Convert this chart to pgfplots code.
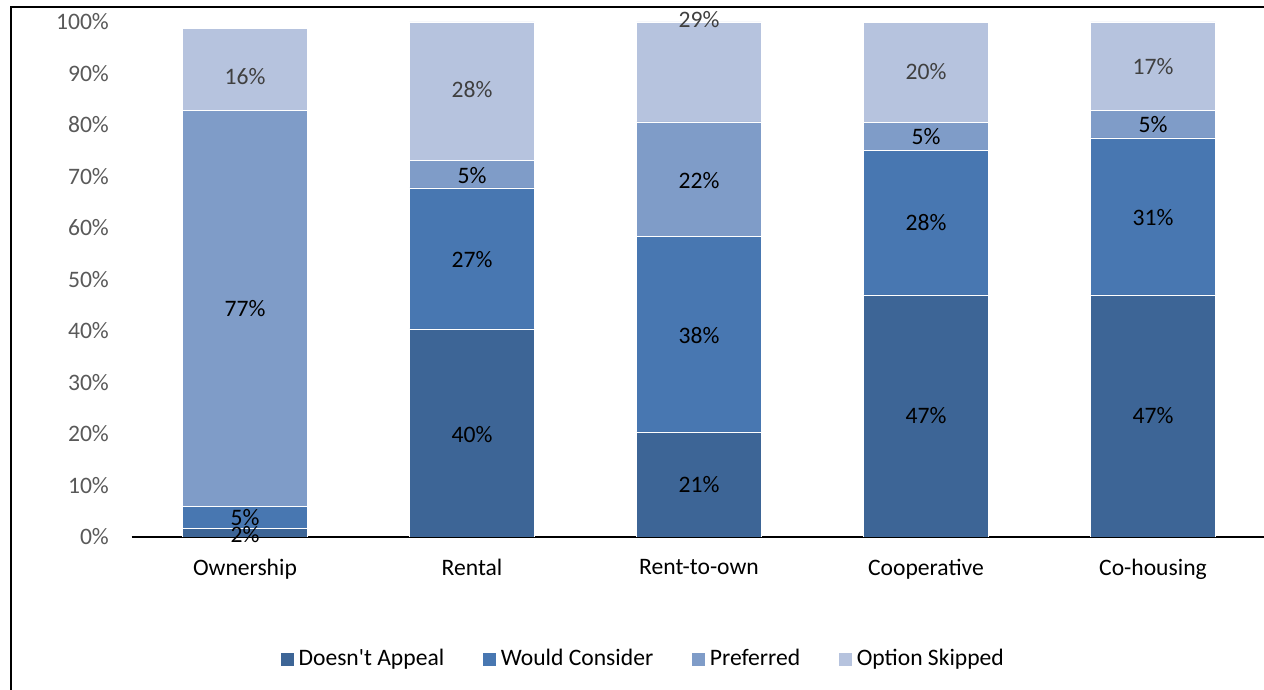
\documentclass[border=0pt]{standalone}
\usepackage{fontspec}
\setmainfont{Carlito}
\usepackage{pgfplots}
\pgfplotsset{compat=1.18}

\definecolor{cDA}{HTML}{3D6596}
\definecolor{cWC}{HTML}{4877B1}
\definecolor{cPR}{HTML}{7F9CC8}
\definecolor{cOS}{HTML}{B6C3DE}
\definecolor{tickgray}{HTML}{595959}
\definecolor{lblgray}{HTML}{404040}

\pgfplotsset{
  common/.style={
    at={(65.75pt,76.5pt)}, anchor=south west, scale only axis,
    width=567.5pt, height=257.5pt,
    xmin=-0.5, xmax=4.5, ymin=0, ymax=100,
    font=\fontsize{11.8}{14}\selectfont,
  },
}

\begin{document}
\begin{tikzpicture}
\useasboundingbox (0,0) rectangle (632pt,345pt);
% frame of the (cropped) chart area
\draw[line width=1pt] (5.25pt,-2pt) -- (5.25pt,341.5pt) -- (640pt,341.5pt);

\begin{axis}[
  common,
  ybar stacked, bar width=0.55,
  xtick={0,1,2,3,4},
  xticklabels={Ownership,Rental,Rent-to-own,Cooperative,Co-housing},
  ytick={0,10,...,100},
  yticklabel={\pgfmathprintnumber{\tick}\%},
  /pgf/number format/assume math mode=true,
  yticklabel style={text=tickgray, xshift=-7.8pt},
  xticklabel style={yshift=-7.5pt},
  axis x line*=bottom, axis y line*=left,
  y axis line style={draw=none},
  x axis line style={line width=1pt, -},
  major tick length=0pt,
  legend style={at={(0.4515,-0.237)}, anchor=center, draw=none,
    legend columns=-1, font=\fontsize{11.8}{14}\selectfont,
    /tikz/every even column/.append style={column sep=17pt}},
  legend image code/.code={\fill[#1] (0pt,-3.5pt) rectangle (7pt,3.5pt);},
  every axis plot/.append style={draw=white, line width=0.3pt},
]
\addplot[fill=cDA] coordinates {(0,1.6) (1,40.4) (2,20.4) (3,47.0) (4,47.0)};
\addplot[fill=cWC] coordinates {(0,4.4) (1,27.4) (2,38.0) (3,28.1) (4,30.5)};
\addplot[fill=cPR] coordinates {(0,76.9) (1,5.4) (2,22.2) (3,5.4) (4,5.4)};
\addplot[fill=cOS] coordinates {(0,15.9) (1,26.8) (2,19.4) (3,19.4) (4,17.1)};
\legend{Doesn\textquotesingle t Appeal, Would Consider, Preferred, Option Skipped}
\end{axis}

% data labels
\begin{axis}[
  common, hide axis, clip=false,
  point meta=explicit symbolic,
  nodes near coords={\pgfplotspointmeta\%},
  every node near coord/.append style={anchor=center, font=\fontsize{11.8}{14}\selectfont},
]
\addplot[only marks, mark=none, nodes near coords style={text=black}] coordinates {
  (0,0.4)[2] (0,3.7)[5] (0,44.3)[77]
  (1,19.8)[40] (1,53.8)[27] (1,70.1)[5]
  (2,10.1)[21] (2,39.2)[38] (2,69.3)[22]
  (3,23.5)[47] (3,61.0)[28] (3,77.7)[5]
  (4,23.5)[47] (4,62.1)[31] (4,80.0)[5]
};
\addplot[only marks, mark=none, nodes near coords style={text=lblgray}] coordinates {
  (0,89.5)[16] (1,86.8)[28] (2,100.4)[29] (3,90.3)[20] (4,91.3)[17]
};
\end{axis}
\end{tikzpicture}
\end{document}
